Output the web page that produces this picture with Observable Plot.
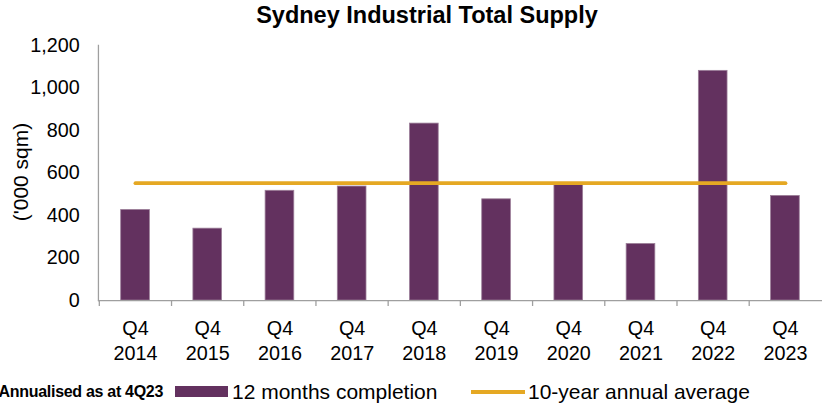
<!DOCTYPE html>
<html>
<head>
<meta charset="utf-8">
<script src="https://cdn.jsdelivr.net/npm/d3@7"></script>
<script src="https://cdn.jsdelivr.net/npm/@observablehq/plot@0.6"></script>
<style>
  html, body { margin: 0; padding: 0; background: #fff; overflow: hidden; width: 823px; height: 403px; }
  #wrap { position: relative; width: 823px; height: 403px; font-family: "Liberation Sans", Arial, sans-serif; color: #000; }
  #title { position: absolute; top: 1px; left: 0; width: 854px; text-align: center; font-weight: bold; font-size: 23.5px; line-height: 28px; }
  #chart { position: absolute; top: 30px; left: 0; }
  #ylabel { position: absolute; left: 21px; top: 172px; transform: translate(-50%, -50%) rotate(-90deg); font-size: 21px; white-space: nowrap; }
  .leg { position: absolute; white-space: nowrap; }
</style>
</head>
<body>
<div id="wrap">
  <div id="title">Sydney Industrial Total Supply</div>
  <div id="ylabel">('000 sqm)</div>
  <div id="chart"></div>
  <div class="leg" id="note" style="right: 660px; top: 383px; font-size: 16px; font-weight: bold; line-height: 18px; letter-spacing: -0.3px;">Annualised as at 4Q23</div>
  <div class="leg" style="left: 175px; top: 386px; width: 53px; height: 11px; background: #63315F;"></div>
  <div class="leg" style="left: 232px; top: 379px; font-size: 21px; line-height: 26px;">12 months completion</div>
  <div class="leg" style="left: 471px; top: 390px; width: 54px; height: 4px; background: #E5A823;"></div>
  <div class="leg" style="left: 528px; top: 379px; font-size: 21px; line-height: 26px;">10-year annual average</div>
</div>
<script>
const years = ["2014", "2015", "2016", "2017", "2018", "2019", "2020", "2021", "2022", "2023"];
const quarterLabel = "Q4";
const completions = [426, 338, 516, 536, 832, 476, 549, 266, 1080, 492];
const tenYearAverage = 552;
const yTicks = [0, 200, 400, 600, 800, 1000, 1200];

const periods = years.map(y => `${quarterLabel}\n${y}`);
const data = years.map((y, i) => ({ period: periods[i], value: completions[i] }));
const avgData = periods.map(p => ({ period: p, value: tenYearAverage }));

const W = 832, ML = 99, MR = 1;
const step = (W - ML - MR) / years.length;

const chart = Plot.plot({
  width: W,
  height: 340,
  marginTop: 15,
  marginBottom: 67,
  marginLeft: ML,
  marginRight: MR,
  style: { fontFamily: "'Liberation Sans', Arial, sans-serif", fontSize: "20px", color: "#000", background: "transparent", overflow: "visible" },
  x: { domain: periods, paddingInner: 0.6, paddingOuter: 0.3, axis: null },
  y: { domain: [0, 1200], axis: null },
  marks: [
    Plot.barY(data, { x: "period", y: "value", fill: "#63315F", stroke: "#9c7f99", strokeWidth: 0.8 }),
    Plot.lineY(avgData, { x: "period", y: "value", stroke: "#E5A823", strokeWidth: 4 }),
    Plot.ruleY([0], { stroke: "#9f9f9f", strokeWidth: 1.3 }),
    Plot.frame({ anchor: "left", stroke: "#9f9f9f", strokeWidth: 1.3 }),
    Plot.axisX({ tickSize: 6, tickFormat: () => "", dx: -step / 2, stroke: "#9f9f9f", strokeWidth: 1.3, label: null }),
    Plot.axisX({ tickSize: 0, tickPadding: 16, lineHeight: 1.3, fill: "#000", fontSize: 20, label: null }),
    Plot.axisY({ ticks: yTicks, tickSize: 0, tickPadding: 19, tickFormat: d3.format(","), fill: "#000", fontSize: 20, label: null })
  ]
});
document.getElementById("chart").appendChild(chart);
</script>
</body>
</html>
